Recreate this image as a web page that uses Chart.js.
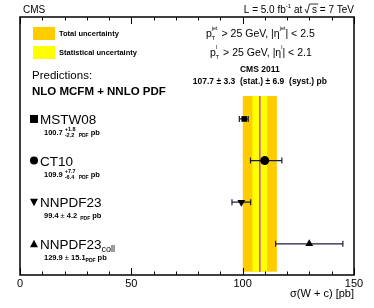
<!DOCTYPE html>
<html>
<head>
<title>W + c cross section</title>
<script src="https://cdn.jsdelivr.net/npm/chart.js"></script>
<style>
  html, body { margin: 0; padding: 0; background: #fff; }
  #wrap { width: 374px; height: 308px; }
</style>
</head>
<body>
<div id="wrap"><canvas id="xsecChart" width="374" height="308"></canvas></div>
<script>
// predictions (top to bottom)
var predNames = ['MSTW08', 'CT10', 'NNPDF23', 'NNPDF23'];
var predValues = [100.7, 109.9, 99.4, 129.9];
var predErrUp = [1.8, 7.7, 4.2, 15.1];
var predErrDown = [2.2, 6.4, 4.2, 15.1];
var predRows = [4, 3, 2, 1];
var predMarkers = ['rect', 'circle', 'triangle', 'triangle'];
var predRotation = [0, 0, 180, 0];

// measurement
var measValue = 107.7;
var measStat = 3.3;
var measSyst = 6.9;

var xTicksMajor = [0, 50, 100, 150];
var xTicksMinor = [10, 20, 30, 40, 60, 70, 80, 90, 110, 120, 130, 140];

var FONT = '"Liberation Sans", Arial, Helvetica, sans-serif';

document.addEventListener('DOMContentLoaded', function () {
    var ctx = document.getElementById('xsecChart').getContext('2d');

    var measTot = Math.sqrt(measStat * measStat + measSyst * measSyst);

    var points = [];
    for (var i = 0; i < predValues.length; i++) {
        points.push({ x: predValues[i], y: predRows[i] });
    }

    // bands, frame, ticks and error bars
    var backPlugin = {
        id: 'backPlugin',
        beforeDatasetsDraw: function (chart) {
            var c = chart.ctx, xs = chart.scales.x, ys = chart.scales.y;
            var yTop = ys.getPixelForValue(4.55), yBot = ys.getPixelForValue(0.33);
            c.save();
            c.fillStyle = '#ffcc00';
            c.fillRect(xs.getPixelForValue(measValue - measTot), yTop,
                xs.getPixelForValue(measValue + measTot) - xs.getPixelForValue(measValue - measTot), yBot - yTop);
            c.fillStyle = '#ffff00';
            c.fillRect(xs.getPixelForValue(measValue - measStat), yTop,
                xs.getPixelForValue(measValue + measStat) - xs.getPixelForValue(measValue - measStat), yBot - yTop);
            c.strokeStyle = '#c848b8';
            c.lineWidth = 1.5;
            c.beginPath();
            c.moveTo(xs.getPixelForValue(measValue), yTop);
            c.lineTo(xs.getPixelForValue(measValue), yBot);
            c.stroke();

            // error bars
            c.strokeStyle = '#1c1c3c';
            c.lineWidth = 1.2;
            for (var i = 0; i < predValues.length; i++) {
                var py = ys.getPixelForValue(predRows[i]);
                var x1 = xs.getPixelForValue(predValues[i] - predErrDown[i]);
                var x2 = xs.getPixelForValue(predValues[i] + predErrUp[i]);
                c.beginPath();
                c.moveTo(x1, py); c.lineTo(x2, py);
                c.moveTo(x1, py - 3); c.lineTo(x1, py + 3);
                c.moveTo(x2, py - 3); c.lineTo(x2, py + 3);
                c.stroke();
            }
            c.restore();
        },
        afterDraw: function (chart) {
            var c = chart.ctx, xs = chart.scales.x;
            var a = chart.chartArea;
            c.save();
            c.strokeStyle = '#000';
            c.lineWidth = 1.5;
            c.strokeRect(a.left, a.top, a.right - a.left, a.bottom - a.top);
            c.lineWidth = 1;
            function tick(v, len) {
                var px = Math.round(xs.getPixelForValue(v)) + 0.5;
                c.beginPath();
                c.moveTo(px, a.bottom); c.lineTo(px, a.bottom - len);
                c.moveTo(px, a.top); c.lineTo(px, a.top + len);
                c.stroke();
            }
            xTicksMajor.forEach(function (v) { tick(v, 7); });
            xTicksMinor.forEach(function (v) { tick(v, 3.5); });

            c.fillStyle = '#000';
            c.font = '11px ' + FONT;
            c.textAlign = 'center';
            c.textBaseline = 'middle';
            xTicksMajor.forEach(function (v) {
                c.fillText(String(v), xs.getPixelForValue(v), a.bottom + 9);
            });
            c.textAlign = 'right';
            c.textBaseline = 'alphabetic';
            c.font = '11px ' + FONT;
            c.fillText('\u03c3(W + c) [pb]', a.right, a.bottom + 22);
            c.restore();
        }
    };

    // all text labels and legend
    var textPlugin = {
        id: 'textPlugin',
        afterDraw: function (chart) {
            var c = chart.ctx, xs = chart.scales.x, ys = chart.scales.y;
            var a = chart.chartArea;
            c.save();
            c.fillStyle = '#000';
            c.textBaseline = 'alphabetic';

            c.font = '10px ' + FONT;
            c.textAlign = 'left';
            c.fillText('CMS', 23, 13);
            // L = 5.0 fb-1 at sqrt(s) = 7 TeV
            var s1 = 'L = 5.0 fb', s2 = ' at ', s3 = 's = 7 TeV';
            c.font = '10px ' + FONT;
            var w1 = c.measureText(s1).width, w2 = c.measureText(s2).width, w3 = c.measureText(s3).width;
            c.font = '6px ' + FONT;
            var wsup = c.measureText('-1').width;
            var wroot = 7;
            var x = a.right - (w1 + wsup + w2 + wroot + w3);
            c.font = '10px ' + FONT;
            c.fillText(s1, x, 13); x += w1;
            c.font = '6px ' + FONT;
            c.fillText('-1', x, 8); x += wsup;
            c.font = '10px ' + FONT;
            c.fillText(s2, x, 13); x += w2;
            c.lineWidth = 0.8;
            c.strokeStyle = '#000';
            c.beginPath();
            c.moveTo(x, 9); c.lineTo(x + 2, 13); c.lineTo(x + 4.5, 4); c.lineTo(x + wroot + w3 * 0.15, 4);
            c.stroke();
            x += wroot;
            c.fillText(s3, x, 13);

            // legend boxes
            c.fillStyle = '#ffcc00';
            c.fillRect(33, 27, 22, 13);
            c.fillStyle = '#ffff00';
            c.fillRect(33, 46, 22, 13);
            c.fillStyle = '#000';
            c.font = 'bold 7.5px ' + FONT;
            c.fillText('Total uncertainty', 59, 36);
            c.fillText('Statistical uncertainty', 59, 55);

            // cuts
            function cut(y, sup, tail, etaSup, end, x0) {
                var xx = x0;
                c.font = '10.5px ' + FONT;
                c.fillText('p', xx, y); xx += c.measureText('p').width;
                c.font = '5.5px ' + FONT;
                c.fillText(sup, xx, y - 7);
                c.fillText('T', xx, y + 3);
                xx += Math.max(c.measureText(sup).width, c.measureText('T').width) + 1;
                c.font = '10.5px ' + FONT;
                c.fillText(tail, xx, y); xx += c.measureText(tail).width;
                c.fillText('\u03b7', xx, y); xx += c.measureText('\u03b7').width;
                c.font = '5.5px ' + FONT;
                c.fillText(etaSup, xx, y - 7); xx += c.measureText(etaSup).width;
                c.font = '10.5px ' + FONT;
                c.fillText(end, xx, y);
            }
            c.textAlign = 'left';
            cut(37, 'jet', ' > 25 GeV, |', 'jet', '| < 2.5', 206);
            cut(56, 'l', ' > 25 GeV, |', 'l', '| < 2.1', 210);

            // predictions header
            c.font = '11.5px ' + FONT;
            c.fillText('Predictions:', 32, 79);
            c.font = 'bold 11.5px ' + FONT;
            c.fillText('NLO MCFM + NNLO PDF', 32, 95);

            // measurement text
            var mx = xs.getPixelForValue(measValue);
            c.textAlign = 'center';
            c.font = 'bold 8.5px ' + FONT;
            c.fillText('CMS 2011', mx, 72);
            c.fillText('107.7 \u00b1 3.3  (stat.) \u00b1 6.9  (syst.) pb', mx, 84);

            // prediction labels
            c.textAlign = 'left';
            for (var i = 0; i < predNames.length; i++) {
                var py = ys.getPixelForValue(predRows[i]);
                c.font = '13.5px ' + FONT;
                var lx = 40;
                c.fillText(predNames[i], lx, py + 5);
                if (i === 3) {
                    var wn = c.measureText(predNames[i]).width;
                    c.font = '9px ' + FONT;
                    c.fillText('coll', lx + wn, py + 8);
                }
                // value line
                var vy = py + 16;
                var vx = 44;
                c.font = 'bold 7.5px ' + FONT;
                var vs = predValues[i].toFixed(1);
                c.fillText(vs, vx, vy); vx += c.measureText(vs).width + 2;
                if (predErrUp[i] !== predErrDown[i]) {
                    c.font = 'bold 5.5px ' + FONT;
                    c.fillText('+' + predErrUp[i].toFixed(1), vx, vy - 4);
                    c.fillText('-' + predErrDown[i].toFixed(1), vx, vy + 2);
                    vx += c.measureText('+' + predErrUp[i].toFixed(1)).width + 3;
                } else {
                    c.font = '7.5px ' + FONT;
                    c.fillText('\u00b1', vx, vy);
                    vx += c.measureText('\u00b1 ').width;
                    c.font = 'bold 7.5px ' + FONT;
                    c.fillText(predErrUp[i].toFixed(1), vx, vy);
                    vx += c.measureText(predErrUp[i].toFixed(1)).width + (i === 3 ? 0 : 3);
                }
                c.font = 'bold 5px ' + FONT;
                c.fillText('PDF', vx, vy + 2); vx += c.measureText('PDF').width + 2;
                c.font = 'bold 7.5px ' + FONT;
                c.fillText('pb', vx, vy);

                // marker in legend
                var mxk = 34;
                c.fillStyle = '#000';
                if (predMarkers[i] === 'rect') {
                    c.fillRect(mxk - 4, py - 4, 8, 8);
                } else if (predMarkers[i] === 'circle') {
                    c.beginPath(); c.arc(mxk, py, 4, 0, Math.PI * 2); c.fill();
                } else {
                    c.beginPath();
                    if (predRotation[i] === 180) {
                        c.moveTo(mxk - 4, py - 3.5); c.lineTo(mxk + 4, py - 3.5); c.lineTo(mxk, py + 4);
                    } else {
                        c.moveTo(mxk - 4, py + 3.5); c.lineTo(mxk + 4, py + 3.5); c.lineTo(mxk, py - 4);
                    }
                    c.fill();
                }
            }
            c.restore();
        }
    };

    new Chart(ctx, {
        type: 'scatter',
        data: {
            datasets: [{
                label: 'Predictions',
                data: points,
                pointStyle: predMarkers,
                rotation: predRotation,
                pointRadius: [4, 4.5, 4.5, 4.5],
                backgroundColor: '#000',
                borderColor: '#000',
                borderWidth: 0
            }]
        },
        options: {
            responsive: false,
            animation: false,
            layout: { padding: { left: 20, right: 20, top: 17, bottom: 33 } },
            scales: {
                x: { type: 'linear', min: 0, max: 150, display: false },
                y: { type: 'linear', min: 0.25, max: 6.45, display: false }
            },
            plugins: {
                legend: { display: false },
                tooltip: { enabled: false }
            }
        },
        plugins: [backPlugin, textPlugin]
    });
});
</script>
</body>
</html>
